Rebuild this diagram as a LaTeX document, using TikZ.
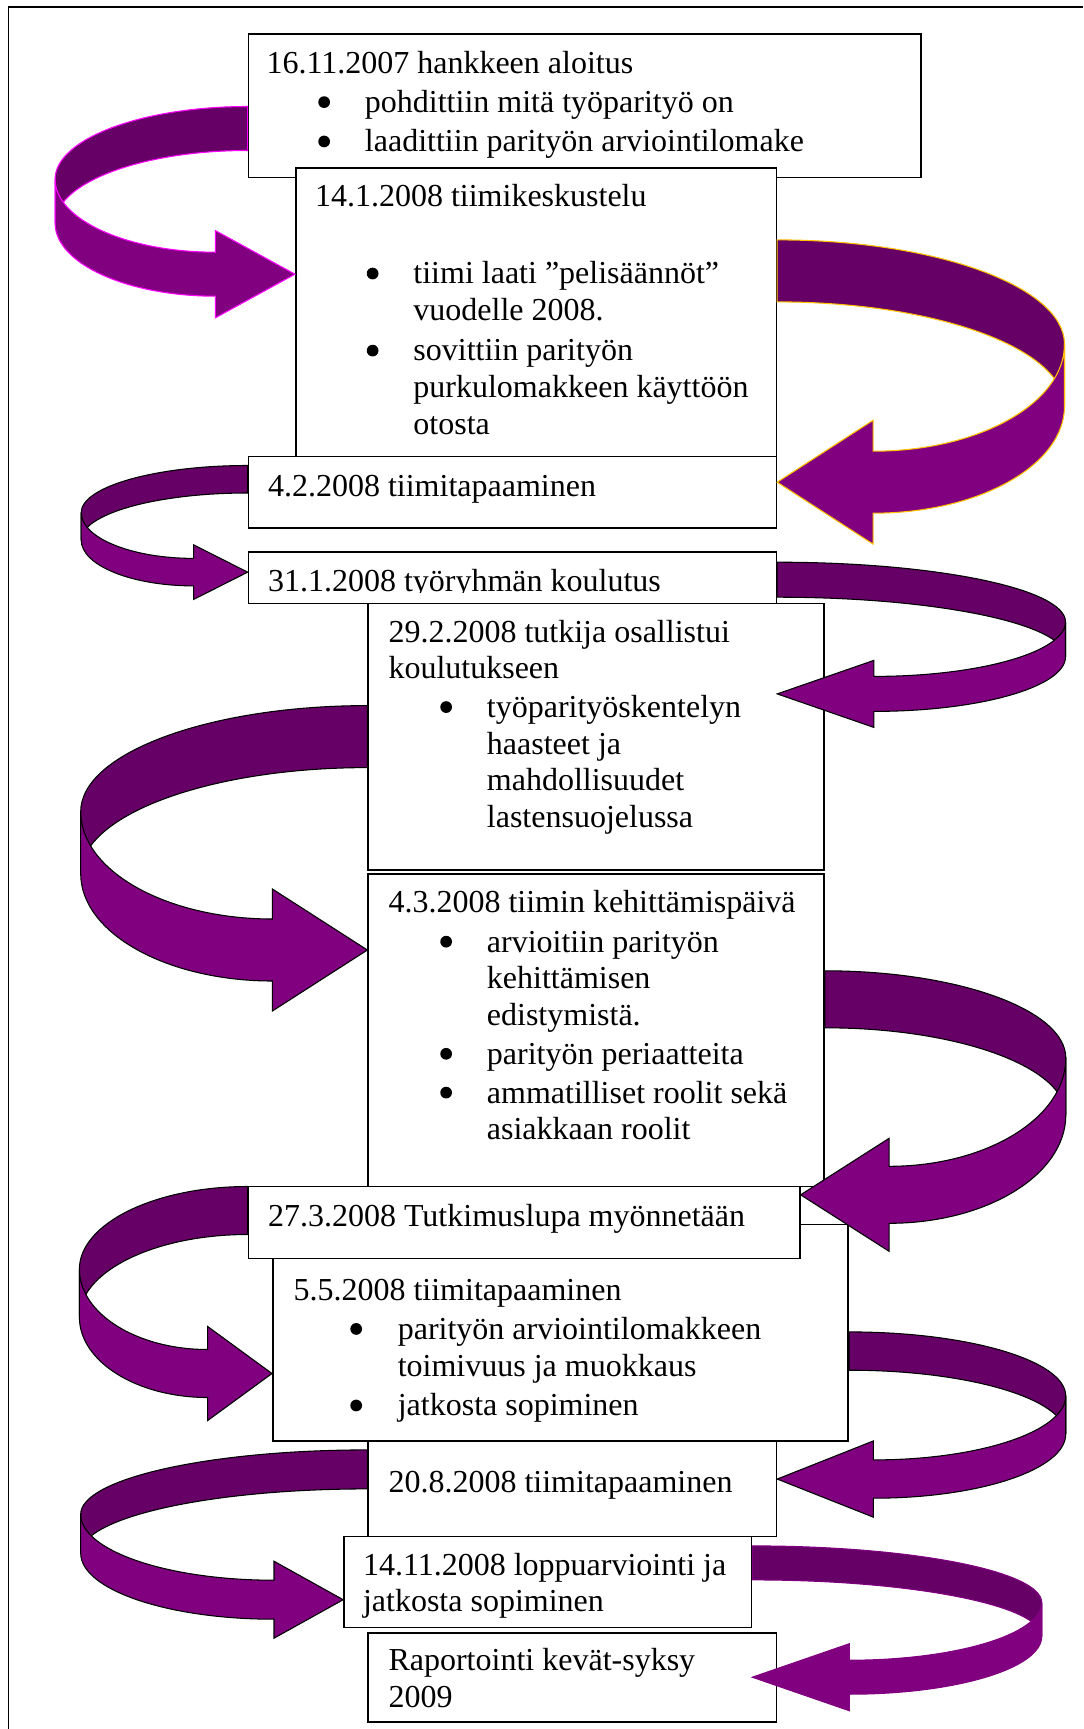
\documentclass[tikz,border=0pt]{standalone}
\usepackage{fontspec}
\setmainfont{Liberation Serif}
\usetikzlibrary{calc, fit}

\definecolor{backpurple}{HTML}{660066}
\definecolor{frontpurple}{HTML}{800080}
\definecolor{pinkline}{HTML}{FF00FF}
\definecolor{goldline}{HTML}{FFC000}

\newlength{\bulx}
\newlength{\txtx}
\setlength{\bulx}{19.4pt}
\setlength{\txtx}{36.9pt}
\newcommand{\bul}{\hspace*{\bulx}\makebox[\dimexpr\txtx-\bulx\relax][l]{\tikz[baseline=0pt]\fill (0pt,3.9pt) circle (2.2pt);}}
\newcommand{\cnt}{\hspace*{\txtx}}
\newcommand{\boxlines}[1]{\parbox[t]{330pt}{\setlength{\baselineskip}{13.75pt}#1}}

% ribbon arrow: options, tail, band, rx, ry, head x, ry2, barb, tip x
\newcommand{\ribbon}[9]{%
    \begin{scope}[shift={#2}]
        \filldraw[fill=backpurple, line width=0.4pt, #1] (0,0)
            arc[start angle=-90, end angle=0, x radius=#4, y radius=#5]
            -- ++(0,#3)
            arc[start angle=0, end angle=-90, x radius=#4, y radius=#5] -- cycle;
        \filldraw[fill=frontpurple, line width=0.4pt, #1] (#4,#5) -- ++(0,#3)
            arc[start angle=0, end angle=90, x radius=#4-#6, y radius=#7]
            -- ++(0,#8) -- (#9,#5+#7+#3/2) -- (#6,#5+#7-#8) -- (#6,#5+#7)
            arc[start angle=90, end angle=0, x radius=#4-#6, y radius=#7] -- cycle;
    \end{scope}}

\begin{document}
\begin{tikzpicture}[x=0.375pt, y=-0.375pt,
    stage/.style={draw, line width=0.6pt, fill=white, inner sep=0pt},
    boxtext/.style={anchor=base west, inner sep=0pt, font=\fontsize{12}{13.75}\selectfont}]
    \useasboundingbox (0,0) rectangle (1083,1729);
    \draw[line width=0.6pt] (8.3,1729) -- (8.3,7.1) -- (1083,7.1);

%%%%%%%%%%%%%%%%%%%%%%%%%%%%%%%%%%%%%%%%%%

    \node[stage, fit={(248.5,34) (921,177.5)}] (aloitus) {};
    \node[boxtext] (aloitus-txt) at (266,73.2) {\boxlines{%
        16.11.2007 hankkeen aloitus\\[1pt]
        \bul pohdittiin mitä työparityö on\\[1pt]
        \bul laadittiin parityön arviointilomake}};

    \node[stage, fit={(295.8,168) (776.4,456.4)}] (keskustelu) {};
    \node[boxtext] (keskustelu-txt) at (314.5,207) {\boxlines{%
        14.1.2008 tiimikeskustelu\\[15.1pt]
        \bul tiimi laati ”pelisäännöt”\\
        \cnt vuodelle 2008.\\[1.4pt]
        \bul sovittiin parityön\\
        \cnt purkulomakkeen käyttöön\\
        \cnt otosta}};

    \node[stage, fit={(248.5,456.4) (776.4,528)}] (tapaaminen1) {};
    \node[boxtext] (tapaaminen1-txt) at (267.5,496.4) {4.2.2008 tiimitapaaminen};

    \node[stage, fit={(248.5,552.2) (776.4,603.3)}] (koulutus) {};
    \begin{scope}
        \clip (248.5,552.2) rectangle (776.4,592);
        \node[boxtext] (koulutus-txt) at (267.5,591.7) {31.1.2008 työryhmän koulutus};
    \end{scope}

    \node[stage, fit={(368.2,603.3) (824,869.8)}] (tutkija) {};
    \node[boxtext] (tutkija-txt) at (388,642) {\boxlines{%
        29.2.2008 tutkija osallistui\\
        koulutukseen\\[0.8pt]
        \bul työparityöskentelyn\\
        \cnt haasteet ja\\
        \cnt mahdollisuudet\\
        \cnt lastensuojelussa}};

    \node[stage, fit={(368.2,874) (824,1186.5)}] (kehittaminen) {};
    \node[boxtext] (kehittaminen-txt) at (388,912.2) {\boxlines{%
        4.3.2008 tiimin kehittämispäivä\\[1.2pt]
        \bul arvioitiin parityön\\
        \cnt kehittämisen\\
        \cnt edistymistä.\\[0.8pt]
        \bul parityön periaatteita\\[0.8pt]
        \bul ammatilliset roolit sekä\\
        \cnt asiakkaan roolit}};

    \node[stage, fit={(272.8,1224.5) (848.2,1441)}] (tapaaminen2) {};
    \node[boxtext] (tapaaminen2-txt) at (293,1300) {\boxlines{%
        \setlength{\bulx}{21.3pt}\setlength{\txtx}{39.1pt}%
        5.5.2008 tiimitapaaminen\\[1pt]
        \bul parityön arviointilomakkeen\\
        \cnt toimivuus ja muokkaus\\[1.2pt]
        \bul jatkosta sopiminen}};

    \node[stage, fit={(248.5,1186.5) (799.8,1258.4)}] (lupa) {};
    \node[boxtext] (lupa-txt) at (267.5,1226) {27.3.2008 Tutkimuslupa myönnetään};

    \node[stage, fit={(368.2,1441) (776.4,1536.5)}] (tapaaminen3) {};
    \node[boxtext] (tapaaminen3-txt) at (388,1492.6) {20.8.2008 tiimitapaaminen};

    \node[stage, fit={(344,1536.5) (751.5,1627.4)}] (loppu) {};
    \node[boxtext] (loppu-txt) at (362.5,1575.7) {\boxlines{%
        14.11.2008 loppuarviointi ja\\[-0.5pt]
        jatkosta sopiminen}};

    \node[stage, fit={(368.2,1632.7) (776.4,1721.9)}] (raportti) {};
    \node[boxtext] (raportti-txt) at (388,1670.9) {\boxlines{%
        Raportointi kevät-syksy\\
        2009}};

%%%%%%%%%%%%%%%%%%%%%%%%%%%%%%%%%%%%%%%%%%

    \ribbon{xscale=-1, draw=pinkline}{($(aloitus.north west)+(0,73.3)$)}{44}{192.6}{72.7}{32.3}{73}{21.6}{-47.3}
    \ribbon{draw=goldline}{($(keskustelu.north east)+(0,72.7)$)}{62}{287.3}{104.3}{96}{107}{31}{0}
    \ribbon{xscale=-1}{($(tapaaminen1.north west)+(0,9.9)$)}{27.5}{166.5}{47.1}{54}{45.8}{13.5}{0}
    \ribbon{}{($(koulutus.north east)+(0,10.8)$)}{35}{288.3}{59.6}{96.6}{54.6}{16}{0}
    \ribbon{xscale=-1}{($(tutkija.north west)+(0,103.1)$)}{62}{286.7}{106.1}{95}{107.3}{30}{0}
    \ribbon{}{($(kehittaminen.north east)+(0,97.6)$)}{57}{241}{87.2}{64.3}{108.3}{28}{-24.2}
    \ribbon{xscale=-1}{($(lupa.north west)+(0,0.8)$)}{48}{168.3}{82.7}{40}{80.3}{23}{-24.3}
    \ribbon{}{($(tapaaminen2.north east)+(0,108.2)$)}{38.3}{216.7}{64}{24.4}{64}{19}{-71.8}
    \ribbon{xscale=-1}{($(tapaaminen3.north west)+(0,9.7)$)}{39}{286.7}{64.3}{93.4}{66}{19}{24.2}
    \ribbon{draw=frontpurple}{($(loppu.north east)+(0,10.2)$)}{34}{289.4}{56.6}{97}{57.7}{16.5}{0}
\end{tikzpicture}
\end{document}
